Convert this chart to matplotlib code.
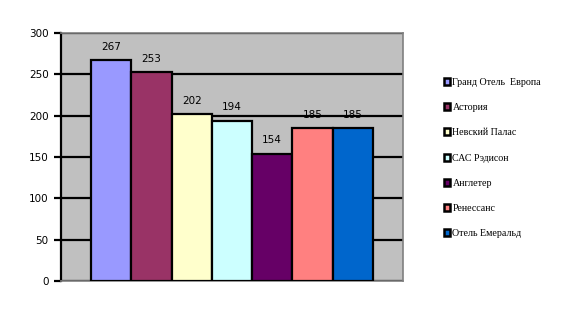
import matplotlib
matplotlib.use("Agg")
import matplotlib.pyplot as plt
from matplotlib.patches import Patch

hotels = ["Гранд Отель  Европа", "Астория", "Невский Палас", "САС Рэдисон",
          "Англетер", "Ренессанс", "Отель Емеральд"]
values = [267, 253, 202, 194, 154, 185, 185]
colors = ["#9999FF", "#993366", "#FFFFCC", "#CCFFFF", "#660066", "#FF8080", "#0066CC"]
yticks = [0, 50, 100, 150, 200, 250, 300]

fig = plt.figure(figsize=(5.77, 3.13), dpi=100)
ax = fig.add_axes([61 / 577, 1 - 281 / 313, 342 / 577, 248 / 313])
ax.set_facecolor("#C0C0C0")

x = list(range(len(values)))
bars = ax.bar(x, values, width=1.0, color=colors, edgecolor="black", linewidth=1.6, zorder=3)
for xi, v in zip(x, values):
    ax.annotate(str(v), (xi, v), xytext=(0, 6), textcoords="offset points",
                ha="center", va="bottom", fontsize=7.5, family="DejaVu Sans")

ax.set_xlim(-1.25, 7.25)
ax.set_ylim(0, 300)
ax.set_yticks(yticks)
ax.set_yticklabels([str(t) for t in yticks], fontsize=7.5)
ax.yaxis.grid(True, color="black", linewidth=1.6, zorder=1)
ax.set_axisbelow(True)
ax.set_xticks([])
ax.tick_params(axis="y", length=5, width=1.6, direction="out", pad=4)
for side in ["top", "right", "bottom"]:
    ax.spines[side].set_color("#808080")
    ax.spines[side].set_linewidth(1.2)
ax.spines["left"].set_color("black")
ax.spines["left"].set_linewidth(1.6)

handles = [Patch(facecolor=c, edgecolor="black", linewidth=1.8) for c in colors]
fig.legend(handles, hotels, loc="upper left", bbox_to_anchor=(440 / 577, 1 - 74 / 313),
           frameon=False, prop={"family": "Liberation Serif", "size": 7.2},
           handlelength=0.55, handleheight=0.7, handletextpad=0.3, labelspacing=1.62,
           borderaxespad=0)

fig.savefig("out.png", dpi=100)
